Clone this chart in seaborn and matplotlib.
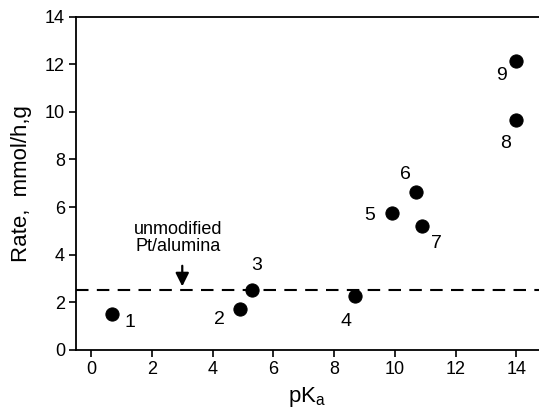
import numpy as np
import pandas as pd
import seaborn as sns
import matplotlib.pyplot as plt

# data
labels = ["1", "2", "3", "4", "5", "6", "7", "8", "9"]
pka = [0.7, 4.9, 5.3, 8.7, 9.9, 10.7, 10.9, 14.0, 14.0]
rate = [1.5, 1.7, 2.5, 2.25, 5.75, 6.65, 5.2, 9.65, 12.15]
baseline_rate = 2.5
# label offsets in pixels (dx, dy)
offsets = [(18, -8), (-21, -10), (5, 25), (-9, -25), (-22, -2), (-11, 17), (14, -17), (-11, -23), (-15, -15)]

df = pd.DataFrame({"pKa": pka, "Rate": rate, "label": labels})

sns.set_style("ticks")
plt.rcParams["font.family"] = ["Liberation Sans", "DejaVu Sans"]
plt.rcParams["text.color"] = "black"
plt.rcParams["axes.labelcolor"] = "black"

fig = plt.figure(figsize=(5.39, 4.17), dpi=100)
ax = fig.add_axes([0.141, 0.161, 0.859, 0.799])

ax.axhline(baseline_rate, color="black", lw=1.5, dashes=(6, 4), zorder=1)
sns.scatterplot(data=df, x="pKa", y="Rate", color="black", s=90,
                edgecolor="black", ax=ax, zorder=3, legend=False)

for lab, x, y, off in zip(df["label"], df["pKa"], df["Rate"], offsets):
    ax.annotate(lab, (x, y), xytext=off, textcoords="offset pixels",
                ha="center", va="center", fontsize=14, color="black")

ax.annotate("", xy=(3.0, 2.55), xytext=(3.0, 3.65),
            arrowprops=dict(arrowstyle="-|>", color="black", lw=1.6,
                            mutation_scale=20))
ax.text(2.85, 3.98, "unmodified\nPt/alumina", ha="center", va="bottom",
        fontsize=13, linespacing=1.0, color="black")

ax.set_xlim(-0.5, 14.75)
ax.set_ylim(0, 14)
ax.set_xticks(range(0, 15, 2))
ax.set_yticks(range(0, 15, 2))
ax.tick_params(direction="out", length=5, width=1.2, labelsize=13,
               colors="black", pad=3)
for side in ["left", "bottom", "top"]:
    ax.spines[side].set_linewidth(1.3)
    ax.spines[side].set_color("black")
ax.spines["right"].set_visible(False)

ax.set_xlabel("pK$_{\\mathregular{a}}$", fontsize=16, labelpad=5)
ax.set_ylabel("Rate,  mmol/h,g", fontsize=16, labelpad=9)

fig.savefig("out.png", dpi=100)
